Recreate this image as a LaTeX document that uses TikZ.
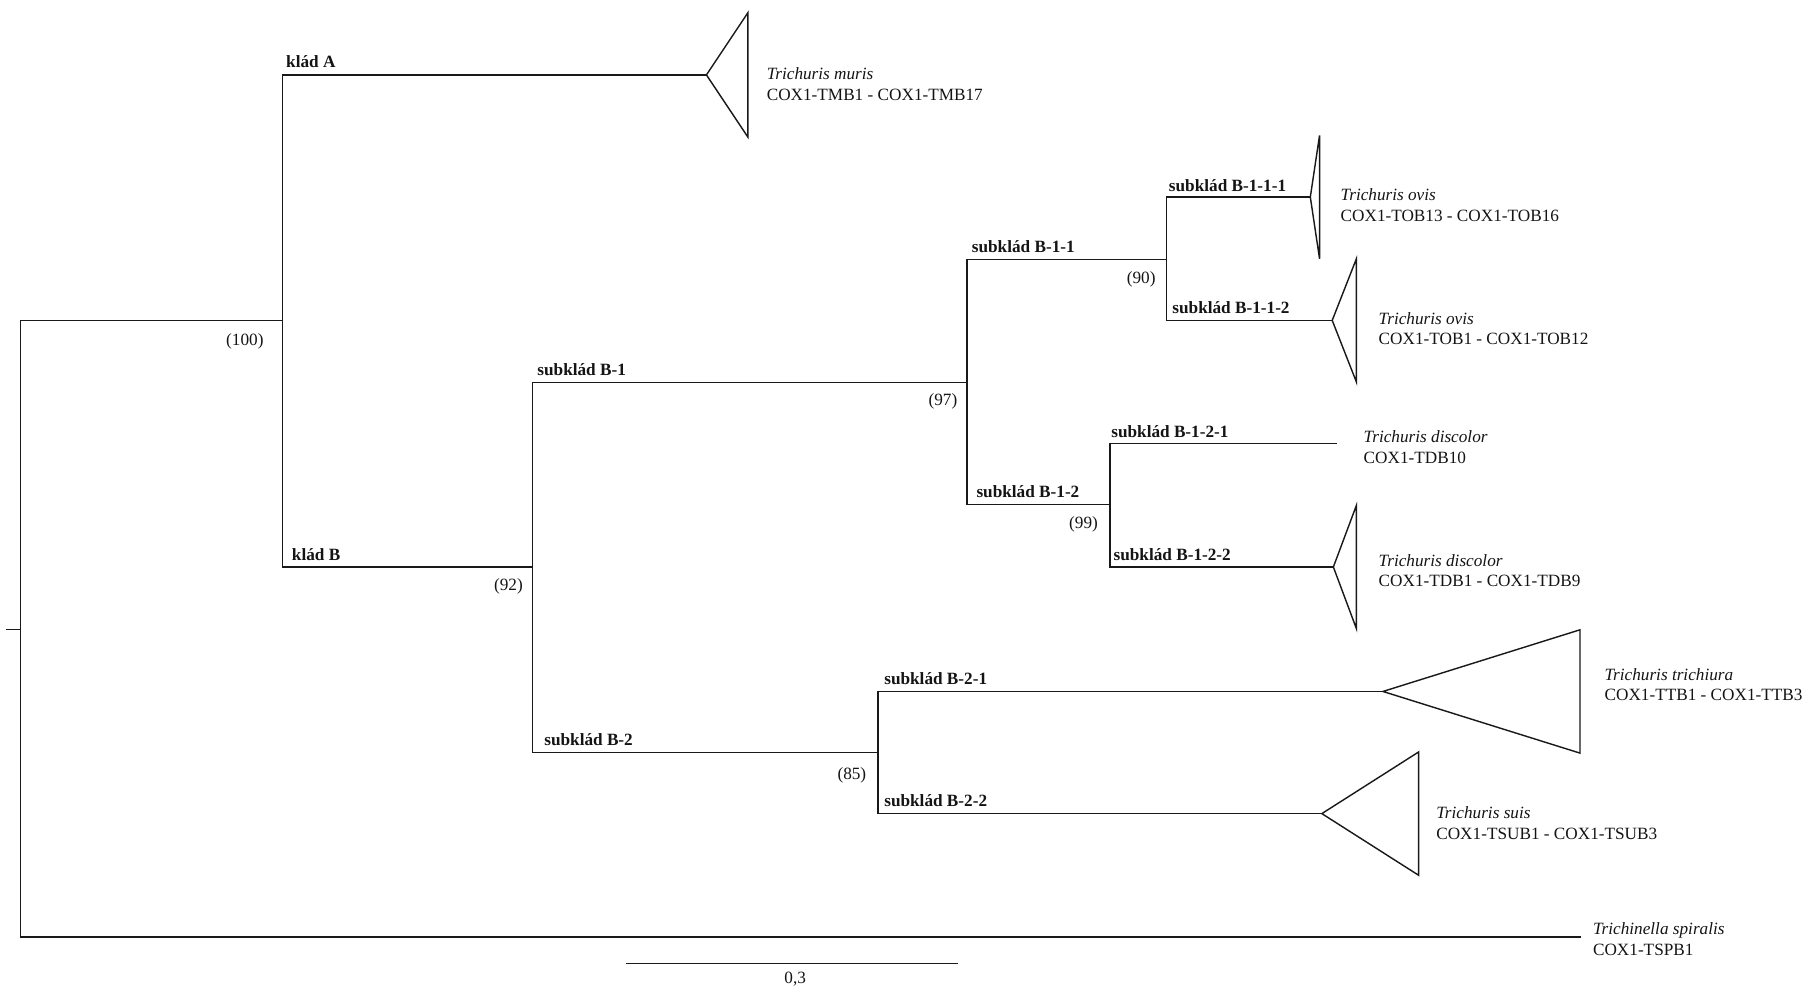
\documentclass[tikz,border=0pt]{standalone}
\usepackage{fontspec}
\setmainfont{Liberation Serif}
\usepackage{tikz}
\usetikzlibrary{positioning}
\usepackage{xcolor}
\definecolor{treeline}{RGB}{25,25,25}
\definecolor{treetext}{RGB}{20,20,20}
\newcommand{\treefont}{\fontsize{8.5}{10.2}\selectfont}
\tikzstyle{branch} = [line width=0.7pt, color=treeline]
\tikzstyle{cladelabel} = [anchor=base west, inner sep=0pt, text=treetext, font=\treefont\bfseries]
\tikzstyle{support} = [anchor=east, inner sep=0pt, text=treetext, font=\treefont]
\tikzstyle{taxon} = [anchor=west, inner sep=0pt, align=left, text=treetext, font=\treefont]

\begin{document}
\begin{tikzpicture}[x=0.02cm, y=-0.02cm]
\useasboundingbox (0,0) rectangle (1568,858);

% Inner nodes
\coordinate (stub) at (5,546);
\coordinate (root) at (18,546);
\coordinate (nAB) at (245,278);
\coordinate (nB) at (462,492);
\coordinate (nB1) at (839,332);
\coordinate (nB11) at (1012,225);
\coordinate (nB12) at (963,438);
\coordinate (nB2) at (762,653);

% Tips
\coordinate (tipA) at (613,65);
\coordinate (tipB111) at (1137,171);
\coordinate (tipB112) at (1156,278);
\coordinate (tipB121) at (1160,385);
\coordinate (tipB122) at (1157,492);
\coordinate (tipB21) at (1200,600);
\coordinate (tipB22) at (1147,706);
\coordinate (tipTS) at (1372,813);

% Branches
\draw[branch] (stub) -- (root);
\draw[branch] (root) |- (nAB);
\draw[branch] (root) |- (tipTS);
\draw[branch] (nAB) |- (tipA);
\draw[branch] (nAB) |- (nB);
\draw[branch] (nB) |- (nB1);
\draw[branch] (nB) |- (nB2);
\draw[branch] (nB1) |- (nB11);
\draw[branch] (nB1) |- (nB12);
\draw[branch] (nB11) |- (tipB111);
\draw[branch] (nB11) |- (tipB112);
\draw[branch] (nB12) |- (tipB121);
\draw[branch] (nB12) |- (tipB122);
\draw[branch] (nB2) |- (tipB21);
\draw[branch] (nB2) |- (tipB22);

% Collapsed clades
\draw[branch] (tipA) -- ++(36,-54) -- ++(0,108) -- cycle;
\draw[branch] (tipB111) -- ++(8,-53.5) -- ++(0,107) -- cycle;
\draw[branch] (tipB112) -- ++(21,-53.5) -- ++(0,107) -- cycle;
\draw[branch] (tipB122) -- ++(20,-53.5) -- ++(0,107) -- cycle;
\draw[branch] (tipB21) -- ++(171,-53.5) -- ++(0,107) -- cycle;
\draw[branch] (tipB22) -- ++(84,-53.5) -- ++(0,107) -- cycle;

% Clade labels
\node[cladelabel] (lblA) at (248,59) {klád A};
\node[cladelabel] (lblB) at (253,486) {klád B};
\node[cladelabel] (lblB1) at (466,326) {subklád B-1};
\node[cladelabel] (lblB11) at (843,219) {subklád B-1-1};
\node[cladelabel] (lblB111) at (1014,166) {subklád B-1-1-1};
\node[cladelabel] (lblB112) at (1017,272) {subklád B-1-1-2};
\node[cladelabel] (lblB12) at (847,432) {subklád B-1-2};
\node[cladelabel] (lblB121) at (964,380) {subklád B-1-2-1};
\node[cladelabel] (lblB122) at (966,486) {subklád B-1-2-2};
\node[cladelabel] (lblB2) at (472,647) {subklád B-2};
\node[cladelabel] (lblB21) at (767,594) {subklád B-2-1};
\node[cladelabel] (lblB22) at (767,700) {subklád B-2-2};

% Bootstrap values
\node[support] (bs100) at (229,296) {(100)};
\node[support] (bs92) at (454,509) {(92)};
\node[support] (bs97) at (831,348) {(97)};
\node[support] (bs90) at (1003,242) {(90)};
\node[support] (bs99) at (953,455) {(99)};
\node[support] (bs85) at (752,673) {(85)};

% Taxa
\node[taxon] (taxA) at (665,73) {\textit{Trichuris muris}\\COX1-TMB1 - COX1-TMB17};
\node[taxon] (taxB111) at (1163,178) {\textit{Trichuris ovis}\\COX1-TOB13 - COX1-TOB16};
\node[taxon] (taxB112) at (1196,285) {\textit{Trichuris ovis}\\COX1-TOB1 - COX1-TOB12};
\node[taxon] (taxB121) at (1183,388) {\textit{Trichuris discolor}\\COX1-TDB10};
\node[taxon] (taxB122) at (1196,495) {\textit{Trichuris discolor}\\COX1-TDB1 - COX1-TDB9};
\node[taxon] (taxB21) at (1392,594) {\textit{Trichuris trichiura}\\COX1-TTB1 - COX1-TTB3};
\node[taxon] (taxB22) at (1246,714) {\textit{Trichuris suis}\\COX1-TSUB1 - COX1-TSUB3};
\node[taxon] (taxTS) at (1382,815) {\textit{Trichinella spiralis}\\COX1-TSPB1};

% Scale bar
\coordinate (sbL) at (543,836);
\coordinate (sbR) at (831,836);
\draw[branch, line width=0.6pt] (sbL) -- (sbR);
\node[support, anchor=center] (sbLabel) at (690,850) {0,3};
\end{tikzpicture}
\end{document}
